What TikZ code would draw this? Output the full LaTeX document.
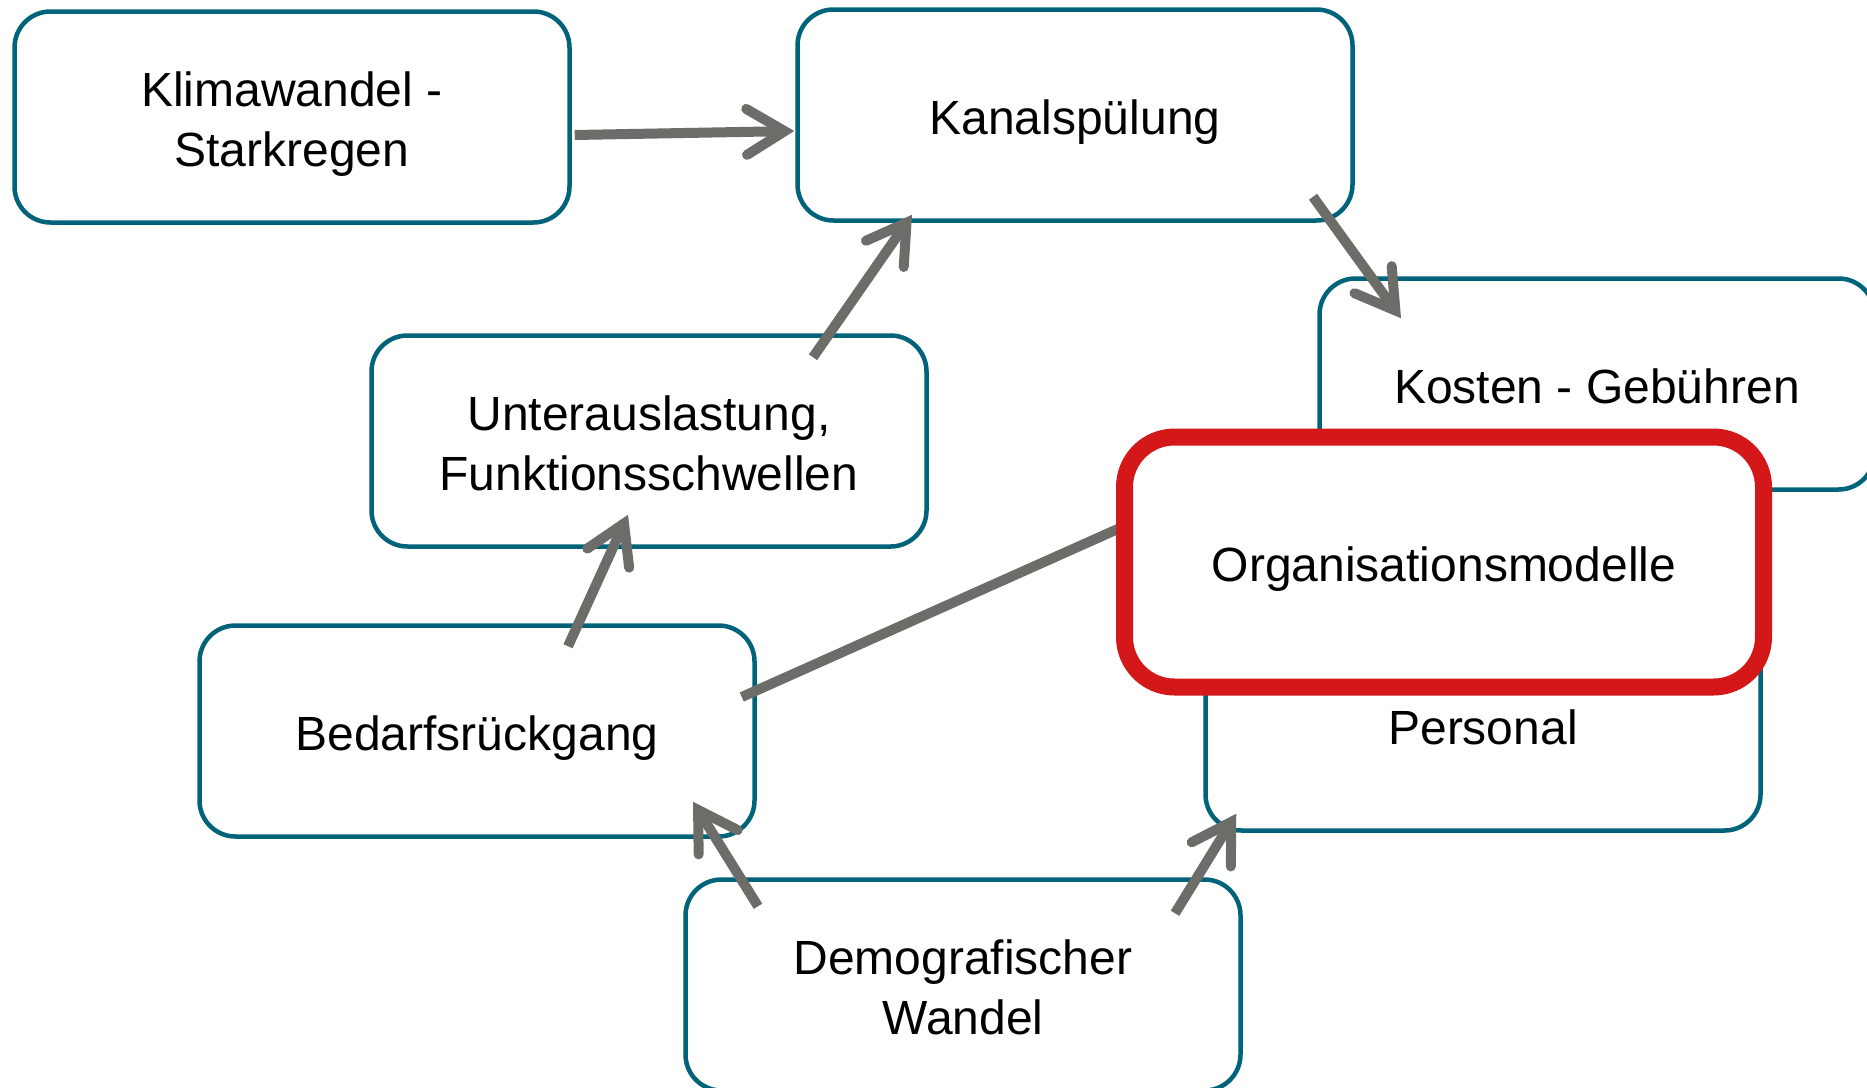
\documentclass[tikz,border=0pt]{standalone}
\usepackage{fontspec}
\setmainfont{Liberation Sans}
\usetikzlibrary{arrows.meta,calc}
\definecolor{boxteal}{RGB}{0,99,122}
\definecolor{arrgray}{RGB}{108,109,104}
\definecolor{hilite}{RGB}{212,24,26}
\pgfdeclarelayer{under}
\pgfsetlayers{under,main}
% fixed line box so every label sits on the same baseline grid
\newcommand\ls{\rule[-11pt]{0pt}{60pt}}
\begin{document}
\begin{tikzpicture}[x=1pt,y=-1pt,
  box/.style={draw=boxteal, line width=4.5pt, fill=white, rounded corners=36pt,
    minimum width=555pt, minimum height=211pt, align=center, inner sep=0pt,
    font=\fontsize{48}{60}\selectfont},
  focus/.style={draw=hilite, line width=17pt, fill=white, rounded corners=50pt,
    minimum width=639pt, minimum height=250pt, inner sep=0pt,
    font=\fontsize{48}{60}\selectfont},
  conn/.style={draw=arrgray, line width=10pt,
    -{Straight Barb[length=38pt,width=46pt,line cap=round]}},
  link/.style={draw=arrgray, line width=10pt}]
\useasboundingbox (0,0) rectangle (1867,1087);

% highlighted box sits on top of everything else
\node[focus] (orga) at (1444,562) {\ls Organisationsmodelle};

\begin{pgfonlayer}{under}
  \fill[white] (0,0) rectangle (1867,1087);
  % boxes
  \node[box] (klima)    at (292,117)  {\ls Klimawandel -\\\ls Starkregen};
  \node[box] (kanal)    at (1075,115) {\ls Kanalspülung};
  \node[box] (kosten)   at (1597,384) {\ls Kosten - Gebühren};
  \node[box] (unter)    at (649,441)  {\ls Unterauslastung,\\\ls Funktionsschwellen};
  \node[box] (bedarf)   at (477,731)  {\ls Bedarfsrückgang};
  \node[box] (personal) at (1483,725) {\ls Personal};
  \node[box] (demo)     at (963,985)  {\ls Demografischer\\\ls Wandel};

  % connectors
  \draw[conn] ($(klima.east)+(3,18)$) -- ($(kanal.west)+(-1,16)$);
  \draw[conn] ($(unter.north)+(164,24)$) -- ($(kanal.south)+(-163,-8)$);
  \draw[conn] ($(kanal.south)+(238,-26)$) -- ($(kosten.north)+(-196,42)$);
  \draw[conn] ($(bedarf.north)+(91,23)$) -- ($(unter.south)+(-21,-34)$);
  \draw[link] ($(bedarf.east)+(-15,-34)$) -- ($(orga.west)+(4,-34)$);
  \draw[conn] ($(demo.north)+(-205,29)$) -- ($(bedarf.south)+(216,-37)$);
  \draw[conn] ($(demo.north)+(212,36)$) -- ($(personal.south west)+(33,-19)$);
\end{pgfonlayer}
\end{tikzpicture}
\end{document}
